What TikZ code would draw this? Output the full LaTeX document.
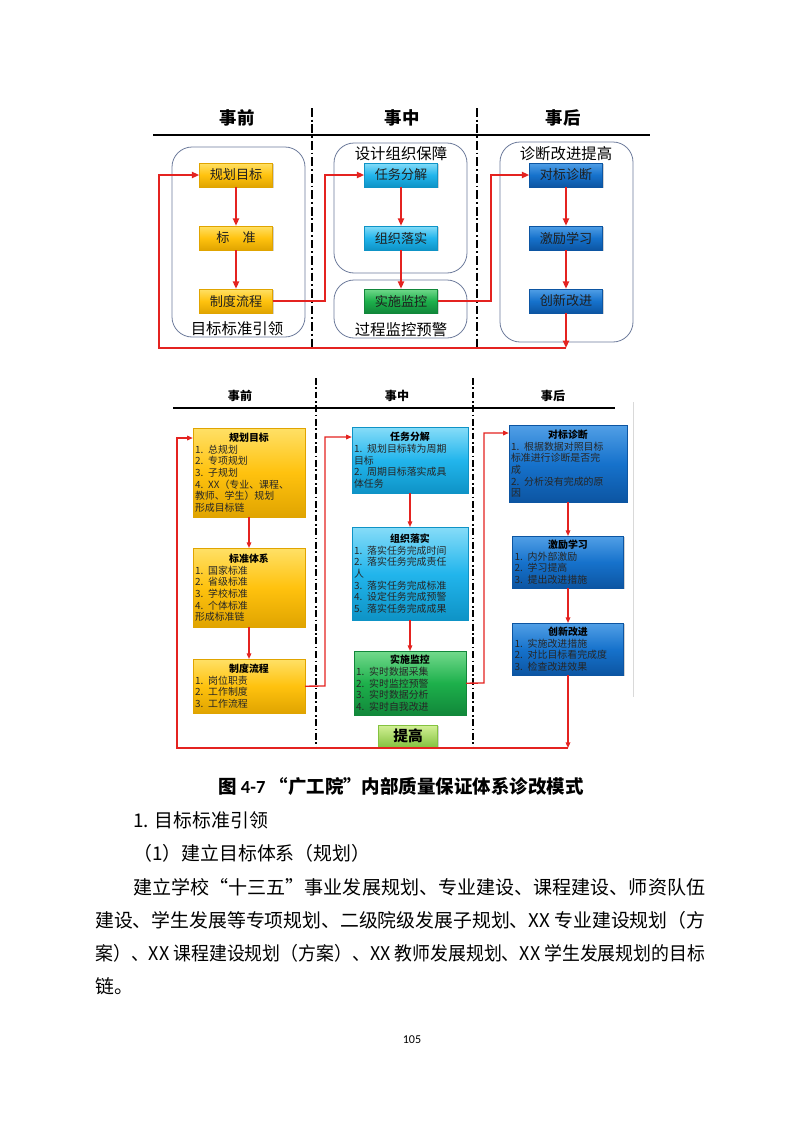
\documentclass[tikz,border=0pt]{standalone}
\usepackage{graphicx}
\usepackage{fontspec}
\setmainfont{Noto Sans CJK SC}
\newfontfamily\numfont{Carlito}
\usetikzlibrary{arrows.meta,shadows}
\setlength{\parindent}{0pt}
% 一个像素的长度（页宽 800 像素 = 210mm）
\newlength{\pxl}
\setlength{\pxl}{0.2625mm}
\definecolor{linkred}{HTML}{E42320}
\definecolor{groupline}{HTML}{6E7C9C}
\definecolor{ytop}{HTML}{FFE066}
\definecolor{ymid}{HTML}{FFC20E}
\definecolor{ybot}{HTML}{E0A400}
\definecolor{ctop}{HTML}{86DCF8}
\definecolor{cmid}{HTML}{22B5EC}
\definecolor{cbot}{HTML}{0E93C6}
\definecolor{gtop}{HTML}{72D98C}
\definecolor{gmid}{HTML}{1DB04B}
\definecolor{gbot}{HTML}{11873A}
\definecolor{btop}{HTML}{519FE6}
\definecolor{bmid}{HTML}{1672CC}
\definecolor{bbot}{HTML}{0C55A2}
\definecolor{ltop}{HTML}{D2F095}
\definecolor{lbot}{HTML}{84C23F}
% 正文的一行，压到给定宽度（两端对齐）
\newcommand{\bodyline}[2]{\resizebox{#1}{\height}{#2}}

\begin{document}
\begin{tikzpicture}[
        % 以像素为单位，y 轴向下
        x=0.2625mm,
        y=-0.2625mm,
        head/.style={font=\fontsize{13pt}{15pt}\selectfont\bfseries},
        headsmall/.style={font=\fontsize{9pt}{11pt}\selectfont\bfseries},
        sepline/.style={line width=1.9pt, dash pattern=on 6.5pt off 2.2pt on 1.4pt off 2.2pt},
        sepsmall/.style={line width=1.5pt, dash pattern=on 5pt off 2pt on 1.2pt off 2pt},
        group/.style={draw=groupline, line width=0.6pt, rounded corners=15pt},
        grouplabel/.style={font=\fontsize{11.5pt}{13pt}\selectfont, inner sep=0pt},
        box/.style={minimum width=73\pxl, minimum height=24\pxl, inner sep=0pt,
            font=\fontsize{9.8pt}{11pt}\selectfont, text=black!88, line width=0.3pt,
            drop shadow={opacity=0.35, shadow xshift=0.9pt, shadow yshift=-0.9pt}},
        ybox/.style={top color=ytop, bottom color=ybot, middle color=ymid, draw=ybot},
        cbox/.style={top color=ctop, bottom color=cbot, middle color=cmid, draw=cbot},
        gbox/.style={top color=gtop, bottom color=gbot, middle color=gmid, draw=gbot},
        bbox/.style={top color=btop, bottom color=bbot, middle color=bmid, draw=bbot},
        lbox/.style={anchor=north, inner xsep=2\pxl, inner ysep=1\pxl, align=left,
            font=\fontsize{7.4pt}{8.7pt}\selectfont, text=black!85, line width=0.3pt,
            drop shadow={opacity=0.35, shadow xshift=0.8pt, shadow yshift=-0.8pt}},
        link/.style={draw=linkred, line width=1.5pt, -{Triangle[length=5.5pt,width=4.5pt]}},
        linksmall/.style={draw=linkred, line width=1pt, -{Triangle[length=4.2pt,width=3.4pt]}},
        bodytext/.style={anchor=west, inner sep=0pt, font=\fontsize{14.1pt}{17pt}\selectfont}
    ]
    \useasboundingbox[fill=white] (0,0) rectangle (800,1131);

    % ===== 上图 =====
    % --- 表头 ---
    \node[head] (h1) at (237,118) {事前};
    \node[head] (h2) at (402,118) {事中};
    \node[head] (h3) at (563,118) {事后};
    \draw[line width=1.5pt] (153,135) -- (650,135);
    \draw[sepline] (312,108) -- (312,350);
    \draw[sepline] (477,108) -- (477,350);

    % --- 分组圆角框 ---
    \draw[group] (172,147) rectangle (305,337);
    \node[grouplabel] (g1) at (237,329) {目标标准引领};
    \draw[group] (334,143) rectangle (467,273);
    \node[grouplabel] (g2) at (401,154) {设计组织保障};
    \draw[group] (334,280) rectangle (467,338);
    \node[grouplabel] (g3) at (401,330) {过程监控预警};
    \draw[group] (500,142) rectangle (633,342);
    \node[grouplabel] (g4) at (566,154) {诊断改进提高};

    % --- 方框 ---
    \node[box, ybox] (gh) at (236,175) {规划目标};
    \node[box, ybox] (bz) at (236,238) {标\quad 准};
    \node[box, ybox] (zd) at (236,301) {制度流程};
    \node[box, cbox] (rw) at (401,175) {任务分解};
    \node[box, cbox] (zz) at (401,238) {组织落实};
    \node[box, gbox] (ss) at (401,301) {实施监控};
    \node[box, bbox] (db) at (566,175) {对标诊断};
    \node[box, bbox] (jl) at (566,238) {激励学习};
    \node[box, bbox] (cx) at (566,301) {创新改进};

    % --- 连线 ---
    \draw[link] (gh) -- (bz);
    \draw[link] (bz) -- (zd);
    \draw[link] (rw) -- (zz);
    \draw[link] (zz) -- (ss);
    \draw[link] (db) -- (jl);
    \draw[link] (jl) -- (cx);
    \coordinate (t1) at (325,301);
    \coordinate (t2) at (491,301);
    \draw[link] (zd.east) -- (t1) |- (rw.west);
    \draw[link] (ss.east) -- (t2) |- (db.west);
    \coordinate (lr) at (566,348);
    \coordinate (ll) at (159,348);
    \draw[link] (cx.south) -- (lr);
    \draw[link] (lr) -- (ll) |- (gh.west);

    % ===== 下图 =====
    % --- 表头 ---
    \node[headsmall] (k1) at (240,396) {事前};
    \node[headsmall] (k2) at (397,396) {事中};
    \node[headsmall] (k3) at (553,396) {事后};
    \draw[line width=0.9pt] (173,408) -- (615,408);
    \draw[sepsmall] (316,378) -- (316,748);
    \draw[sepsmall] (473,378) -- (473,748);
    \draw[black!15, line width=0.6pt] (633,402) -- (633,697);

    % --- 事前 ---
    \node[lbox, ybox, text width=108\pxl, minimum height=89\pxl] (gh2) at (249,428)
        {{\centering\bfseries\color{black} 规划目标\par}1. 总规划\\2. 专项规划\\3. 子规划\\4. XX（专业、课程、\\教师、学生）规划\\形成目标链};
    \node[lbox, ybox, text width=108\pxl, minimum height=79\pxl] (bz2) at (249,548)
        {{\centering\bfseries\color{black} 标准体系\par}1. 国家标准\\2. 省级标准\\3. 学校标准\\4. 个体标准\\形成标准链};
    \node[lbox, ybox, text width=108\pxl, minimum height=54\pxl] (zd2) at (249,659)
        {{\centering\bfseries\color{black} 制度流程\par}1. 岗位职责\\2. 工作制度\\3. 工作流程};

    % --- 事中 ---
    \node[lbox, cbox, text width=112\pxl, minimum height=66\pxl] (rw2) at (410,427)
        {{\centering\bfseries\color{black} 任务分解\par}1. 规划目标转为周期\\目标\\2. 周期目标落实成具\\体任务};
    \node[lbox, cbox, text width=112\pxl, minimum height=93\pxl] (zz2) at (410,527)
        {{\centering\bfseries\color{black} 组织落实\par}1. 落实任务完成时间\\2. 落实任务完成责任\\人\\3. 落实任务完成标准\\4. 设定任务完成预警\\5. 落实任务完成成果};
    \node[lbox, gbox, text width=108\pxl, minimum height=64\pxl] (ss2) at (410,651)
        {{\centering\bfseries\color{black} 实施监控\par}1. 实时数据采集\\2. 实时监控预警\\3. 实时数据分析\\4. 实时自我改进};
    \node[anchor=north, minimum width=59\pxl, minimum height=22\pxl, inner sep=0pt,
        top color=ltop, bottom color=lbot, draw=lbot, line width=0.3pt,
        drop shadow={opacity=0.35, shadow xshift=0.8pt, shadow yshift=-0.8pt},
        font=\fontsize{11pt}{13pt}\selectfont\bfseries] (tg) at (408,725) {提高};

    % --- 事后 ---
    \node[lbox, bbox, text width=114\pxl, minimum height=77\pxl] (db2) at (568,425)
        {{\centering\bfseries\color{black} 对标诊断\par}1. 根据数据对照目标\\标准进行诊断是否完\\成\\2. 分析没有完成的原\\因};
    \node[lbox, bbox, text width=107\pxl, minimum height=52\pxl] (jl2) at (568,536)
        {{\centering\bfseries\color{black} 激励学习\par}1. 内外部激励\\2. 学习提高\\3. 提出改进措施};
    \node[lbox, bbox, text width=107\pxl, minimum height=52\pxl] (cx2) at (568,623)
        {{\centering\bfseries\color{black} 创新改进\par}1. 实施改进措施\\2. 对比目标看完成度\\3. 检查改进效果};

    % --- 连线 ---
    \draw[linksmall] (gh2) -- (bz2);
    \draw[linksmall] (bz2) -- (zd2);
    \draw[linksmall] (rw2) -- (zz2);
    \draw[linksmall] (zz2) -- (ss2);
    \draw[linksmall] (db2) -- (jl2);
    \draw[linksmall] (jl2) -- (cx2);
    \coordinate (t3) at (325,686);
    \coordinate (t4) at (484,683);
    \draw[linksmall] (zd2.east) -- (t3) |- ([yshift=-10\pxl]rw2.north west);
    \draw[linksmall] (ss2.east) -- (t4) |- ([yshift=-8\pxl]db2.north west);
    \coordinate (lr2) at (568,748);
    \coordinate (ll2) at (177,748);
    \draw[linksmall] (cx2.south) -- (lr2);
    \draw[linksmall] (lr2) -- (ll2) |- ([yshift=-10\pxl]gh2.north west);

    % ===== 图题与正文 =====
    \node[font=\fontsize{13.8pt}{16pt}\selectfont\bfseries, inner sep=0pt] (cap) at (401,786)
        {图 {\numfont 4-7} “广工院”内部质量保证体系诊改模式};
    \node[bodytext] (p1) at (133,820) {1. 目标标准引领};
    \node[bodytext] (p2) at (133,853) {（1）建立目标体系（规划）};
    \node[bodytext] (l1) at (133,887) {\bodyline{572\pxl}{建立学校“十三五”事业发展规划、专业建设、课程建设、师资队伍}};
    \node[bodytext] (l2) at (95,920) {\bodyline{610\pxl}{建设、学生发展等专项规划、二级院级发展子规划、XX 专业建设规划（方}};
    \node[bodytext] (l3) at (95,953) {\bodyline{610\pxl}{案）、XX 课程建设规划（方案）、XX 教师发展规划、XX 学生发展规划的目标}};
    \node[bodytext] (l4) at (95,986) {链。};
    \node[font=\numfont\fontsize{9pt}{11pt}\selectfont] (pg) at (412,1040) {105};
\end{tikzpicture}
\end{document}
